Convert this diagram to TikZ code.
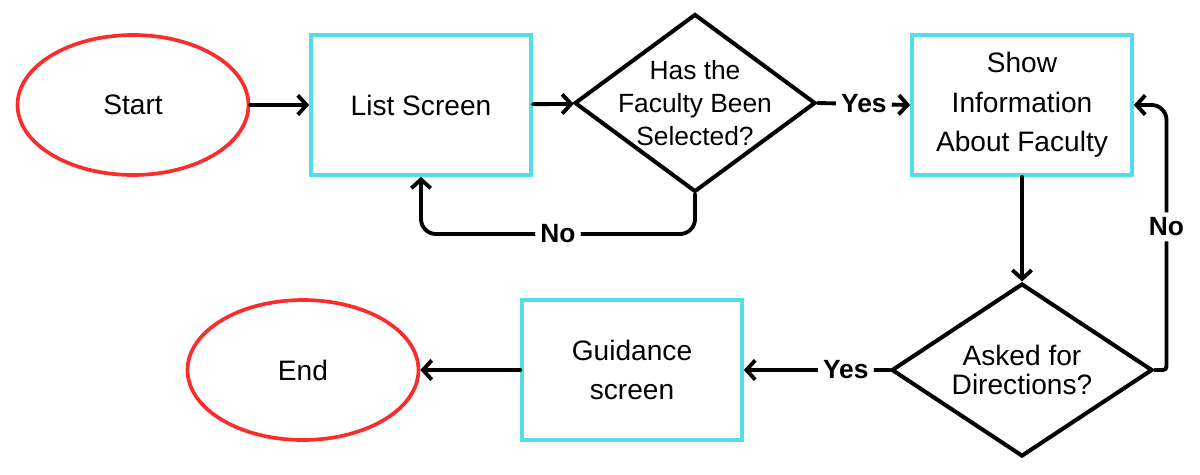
\documentclass[tikz,border=0pt]{standalone}
\usepackage{fontspec}
\setmainfont{Liberation Sans}
\usetikzlibrary{shapes.geometric}
\usetikzlibrary{arrows.meta}
\usetikzlibrary{positioning}
\definecolor{endred}{RGB}{250,45,45}
\definecolor{screencyan}{RGB}{85,220,228}
\tikzset{
	terminal/.style={ellipse, draw=endred, line width=2.1pt, minimum width=4.62cm, minimum height=2.8cm,
		font=\fontsize{16}{20}\selectfont},
	screen/.style={rectangle, draw=screencyan, line width=2.1pt, minimum width=4.4cm, minimum height=2.8cm,
		align=center, font=\fontsize{16}{22.5}\selectfont},
	decision/.style={diamond, draw, line width=2.3pt, inner sep=0pt},
	flow/.style={-{Straight Barb[length=5pt,width=11pt]}, line width=2.2pt, line cap=round, rounded corners=0.3cm},
	answer/.style={fill=white, inner sep=3pt, font=\bfseries\fontsize{15}{15}\selectfont}
}

\begin{document}
\begin{tikzpicture}[x=0.02cm, y=-0.02cm]
        \useasboundingbox (0,0) rectangle (1200,474);

        % ==================================================
        % 1. TOP ROW
        % ==================================================
        \node[terminal] (start) at (133,105) {Start};
        \node[screen] (list) at (421,105) {List Screen};

        \node[decision, minimum width=4.82cm, minimum height=3.56cm] (sel) at (695,103) {};
        \node[align=center, font=\fontsize{15}{19}\selectfont] (seltext) at (sel) {Has the\\Faculty Been\\Selected?};

        \node[screen] (info) at (1022,105) {Show\\Information\\About Faculty};

        % ==================================================
        % 2. BOTTOM ROW
        % ==================================================
        \node[decision, minimum width=5.22cm, minimum height=3.46cm] (dir) at (1022,370) {};
        \node[align=center, font=\fontsize{16}{16.5}\selectfont] (dirtext) at (dir) {Asked for\\Directions?};

        \node[screen] (guide) at (632,370) {Guidance\\screen};
        \node[terminal] (end) at (303,370) {End};

        % ==================================================
        % 3. CONNECTORS
        % ==================================================
        \draw[flow] (start) -- (list);
        \draw[flow] (list) -- (sel);
        \draw[flow] (sel.east) -- node[answer] {Yes} (info.west);
        \draw[flow] (sel.south) -- ++(0,40) -| node[answer, pos=0.25] {No} (list.south);

        \draw[flow] (info.south) -- (dir.north);
        \draw[flow] (dir.east) [rounded corners=2pt] -- ++(12,0) [rounded corners=0.3cm] |- node[answer, pos=0.27] {No} (info.east);
        \draw[flow] (dir.west) -- node[answer, pos=0.3] {Yes} (guide.east);
        \draw[flow] (guide) -- (end);

\end{tikzpicture}
\end{document}
